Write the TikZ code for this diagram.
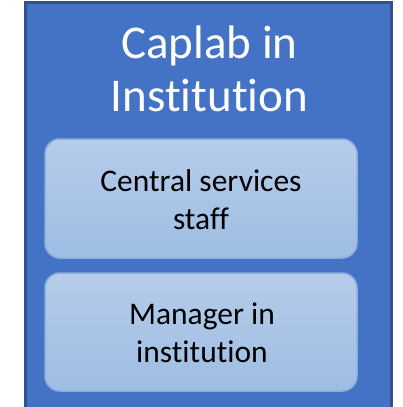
\documentclass[tikz,border=0pt]{standalone}
\usepackage{fontspec}
\setmainfont[Ligatures=NoCommon]{Carlito}
\definecolor{outerfill}{HTML}{4472C4}
\definecolor{outerline}{HTML}{2F528F}
\definecolor{boxtop}{HTML}{B6CCEA}
\definecolor{boxbot}{HTML}{9EBDE3}
\definecolor{boxline}{HTML}{8EAFDD}
\tikzset{
  innerbox/.style={draw=boxline, line width=1.5pt, rounded corners=15pt, top color=boxtop, bottom color=boxbot},
  titletext/.style={text=white, align=center, font=\fontsize{47}{53}\selectfont},
  bodytext/.style={text=black, align=center, font=\fontsize{31.5}{38}\selectfont}
}
\begin{document}
\begin{tikzpicture}[x=1pt,y=1pt]
\useasboundingbox (0,0) rectangle (403,-407);
\begin{scope}
\clip (0,0) rectangle (403,-407);
\draw[fill=outerfill, draw=outerline, line width=3pt] (25.5,-2.5) rectangle (391.5,-415);
\end{scope}
\draw[innerbox] (45,-139) rectangle (357,-258);
\draw[innerbox] (45,-273) rectangle (357,-391);
\node[titletext] (title) at (209.5,-68.5) {Caplab in\\Institution};
\node[bodytext] (central) at (201,-199.5) {Central services\\staff};
\node[bodytext] (manager) at (202,-333) {Manager in\\institution};
\end{tikzpicture}
\end{document}
